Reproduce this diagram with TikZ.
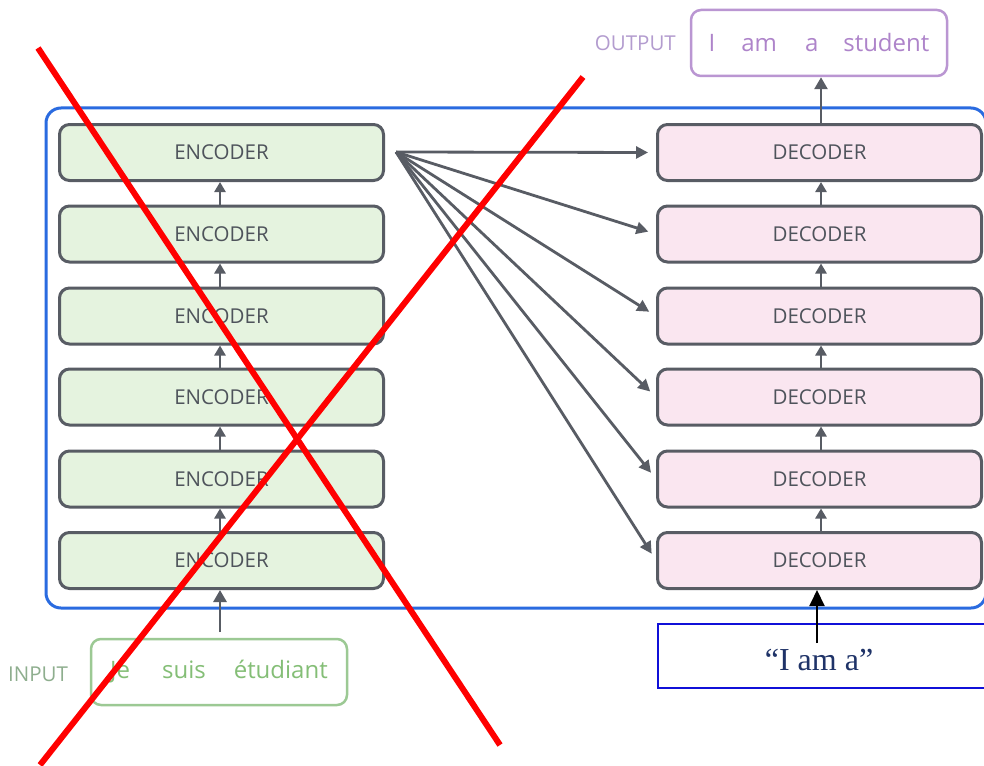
\documentclass[tikz,border=0pt]{standalone}
\usepackage{fontspec}
\setmainfont{Open Sans}
\newfontfamily\quotefont{Liberation Serif}
\usetikzlibrary{arrows.meta}
\definecolor{edgegray}{HTML}{585C64}
\definecolor{textgray}{HTML}{4E535B}
\definecolor{encfill}{HTML}{E5F3DF}
\definecolor{decfill}{HTML}{FAE6F0}
\definecolor{frameblue}{HTML}{2A6BE0}
\definecolor{outpurple}{HTML}{AE84CA}
\definecolor{outlabel}{HTML}{B39CCF}
\definecolor{ingreen}{HTML}{84BE76}
\definecolor{inlabel}{HTML}{8EAE8E}
\definecolor{inbox}{HTML}{9CC994}
\definecolor{promptblue}{HTML}{1010D8}
\definecolor{promptnavy}{HTML}{1F3368}
\tikzset{
  x=1pt, y=-1pt,
  layer/.style={draw=edgegray, line width=3pt, rounded corners=10pt,
    minimum width=324pt, minimum height=56pt, inner sep=0pt,
    text=textgray, font=\fontsize{20.5}{20.5}\selectfont},
  encbox/.style={layer, fill=encfill},
  decbox/.style={layer, fill=decfill},
  flow/.style={draw=edgegray, line width=2.8pt,
    -{Triangle[length=12pt,width=12pt]}},
  seqbox/.style={line width=2.5pt, rounded corners=10pt, minimum width=256pt,
    minimum height=66pt, inner sep=0pt, font=\fontsize{24}{24}\selectfont},
  seqlabel/.style={font=\fontsize{20.5}{20.5}\selectfont, inner sep=0pt},
  cross/.style={draw=red, line width=6pt}
}
\begin{document}
\begin{tikzpicture}
\useasboundingbox (0,0) rectangle (984,765);
\fill[white] (0,0) rectangle (984,765);

% outer frame around the whole stack
\draw[frameblue, line width=3pt, rounded corners=15pt] (46,108) rectangle (986,608);

% encoder and decoder stacks (1 = top)
\foreach \i/\y in {1/152.5,2/234,3/316,4/397,5/479,6/560.5}{
  \node[encbox] (enc\i) at (221.5,\y) {ENCODER};
  \node[decbox] (dec\i) at (819.5,\y) {DECODER};
}

% links inside each stack
\foreach \i/\j in {2/1,3/2,4/3,5/4,6/5}{
  \draw[flow, -{Triangle[length=10pt,width=11pt]}] (enc\i.north -| 220,0) -- (enc\j.south -| 220,0);
  \draw[flow, -{Triangle[length=10pt,width=11pt]}] (dec\i.north -| 821,0) -- (dec\j.south -| 821,0);
}

% the top encoder feeds every decoder
\coordinate (fan) at (396,152);
\foreach \i in {1,...,6}{
  \draw[flow, shorten >=8pt] (fan) -- (dec\i.west);
}

% output sequence
\node[seqbox, draw=outpurple!85, text=outpurple] (out) at (819,43)
  {I\hspace{26pt}am\hspace{28pt}a\hspace{25pt}student};
\node[seqlabel, text=outlabel, anchor=east] (outlab) at (676,43) {OUTPUT};
\draw[flow, -{Triangle[length=12pt,width=13pt]}] (dec1.north -| 821,0) -- (out.south -| 821,0);

% input sequence
\node[seqbox, draw=inbox, text=ingreen] (in) at (219,672)
  {Je\hspace{32pt}suis\hspace{28pt}étudiant};
\node[seqlabel, text=inlabel, anchor=west] (inlab) at (8,674) {INPUT};
\coordinate (inarrow) at (220,632);
\draw[flow, -{Triangle[length=12pt,width=13pt]}] (inarrow) -- (enc6.south -| 220,0);

% shifted decoder input
\node[draw=promptblue, line width=1.6pt, minimum width=340pt, minimum height=64pt,
  inner sep=0pt, anchor=north west] (prompt) at (657,623) {};
\node[text=promptnavy, font=\quotefont\fontsize{32}{32}\selectfont, inner sep=0pt]
  (prompttext) at (819,660) {“I am a”};
\coordinate (promptarrow) at (817,643);
\draw[black, line width=2pt, -{Triangle[length=16pt,width=15pt]}]
  (promptarrow) -- (dec6.south -| 817,0);

% crossing out the encoder side
\draw[cross] (38,48) -- (500,745);
\draw[cross] (583,77) -- (40,765);
\end{tikzpicture}
\end{document}
